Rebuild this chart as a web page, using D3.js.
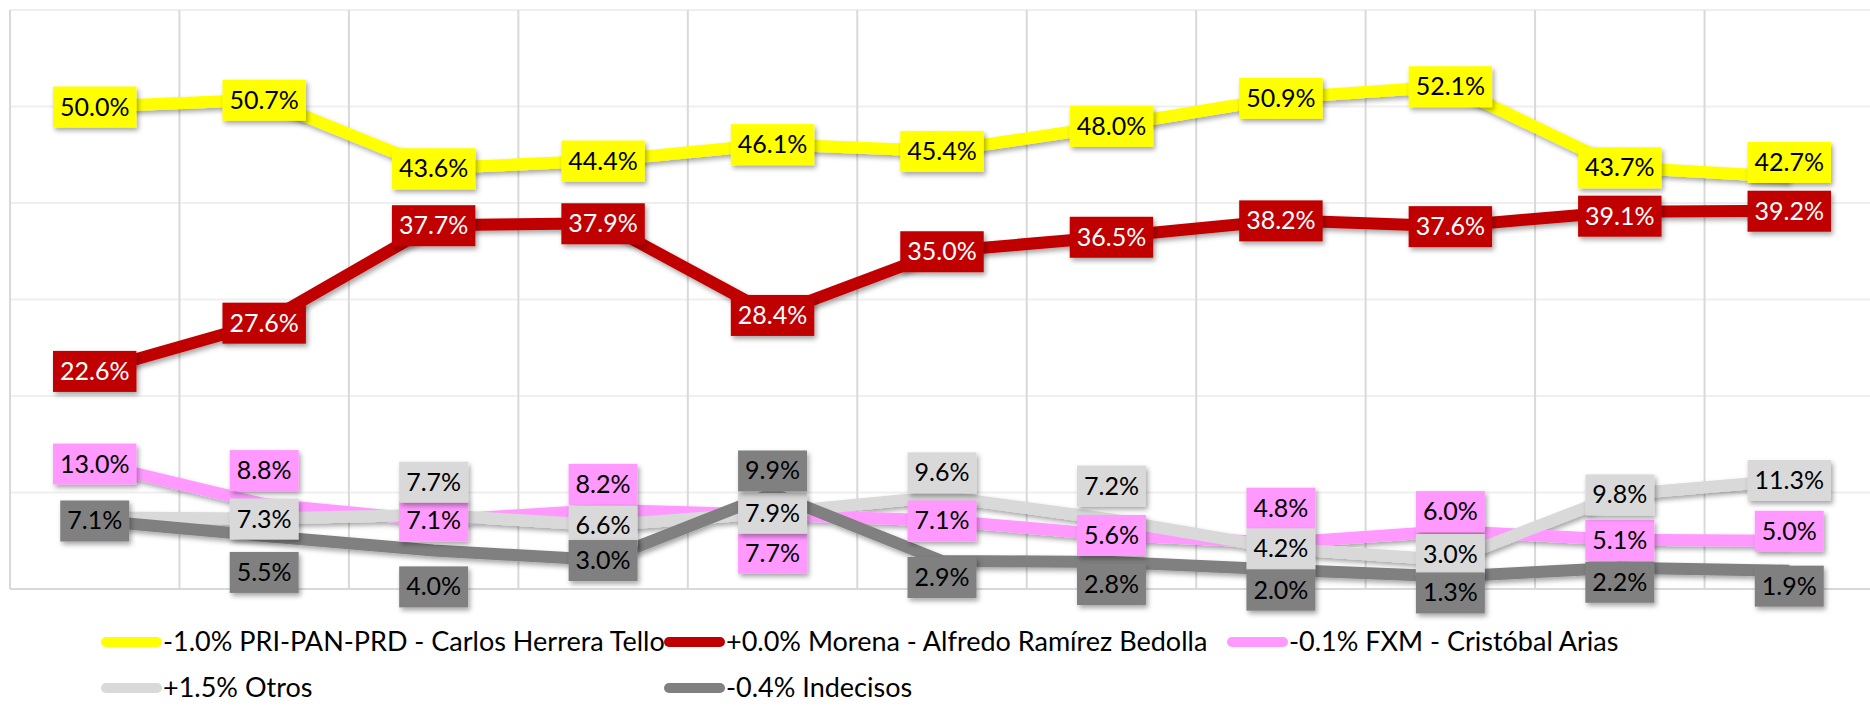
<!DOCTYPE html>
<html lang="es">
<head>
<meta charset="UTF-8">
<title>Encuestas - gubernatura</title>
<script src="https://d3js.org/d3.v7.min.js"></script>
<style>
    html, body {
        margin: 0;
        padding: 0;
        background: #ffffff;
    }

    #chart {
        width: 1870px;
        height: 706px;
    }

    .grid-v line {
        stroke: #d9d9d9;
        stroke-width: 2;
    }

    .grid-h line {
        stroke: #efefef;
        stroke-width: 2;
    }

    .serie {
        fill: none;
        stroke-width: 12;
        stroke-linejoin: round;
    }

    .etiqueta text {
        font-family: Lato, "Noto Sans", sans-serif;
        font-size: 25px;
    }

    .leyenda text {
        font-family: Lato, "Noto Sans", sans-serif;
        font-size: 27px;
        fill: #000000;
    }
</style>
</head>
<body>
<div id="chart"></div>
<script>
    // datos (once encuestas, en %)
    const encuestas = ["E1", "E2", "E3", "E4", "E5", "E6", "E7", "E8", "E9", "E10", "E11"];
    const pri = [50.0, 50.7, 43.6, 44.4, 46.1, 45.4, 48.0, 50.9, 52.1, 43.7, 42.7];
    const morena = [22.6, 27.6, 37.7, 37.9, 28.4, 35.0, 36.5, 38.2, 37.6, 39.1, 39.2];
    const fxm = [13.0, 8.8, 7.1, 8.2, 7.7, 7.1, 5.6, 4.8, 6.0, 5.1, 5.0];
    const otros = [7.4, 7.3, 7.7, 6.6, 7.9, 9.6, 7.2, 4.2, 3.0, 9.8, 11.3];
    const indecisos = [7.1, 5.5, 4.0, 3.0, 9.9, 2.9, 2.8, 2.0, 1.3, 2.2, 1.9];
    const nombres = [
        "-1.0% PRI-PAN-PRD - Carlos Herrera Tello",
        "+0.0% Morena - Alfredo Ramírez Bedolla",
        "-0.1% FXM - Cristóbal Arias",
        "+1.5% Otros",
        "-0.4% Indecisos"
    ];
    const yTicks = [0, 10, 20, 30, 40, 50, 60];

    // etiquetas movidas a mano en el original (px); null = etiqueta borrada
    const ajustePri = [0, 0, 0, 0, 0, 0, 0, 0, 0, 0, -15];
    const ajusteMorena = [0, 0, 0, 0, 0, 0, 0, 0, 0, 4, 0];
    const ajusteFxm = [0, -34, 0, -26, 38, 0, 0, -35, -20, 0, -10];
    const ajusteOtros = [null, 0, -33, 0, 0, -24, -34, 0, -6, 0, 0];
    const ajusteIndecisos = [0, 36, 36, 0, -23, 16, 22, 20, 16, 14, 15];

    const series = [
        { nombre: nombres[0], valores: pri, color: "#ffff00", texto: "#000000", ajuste: ajustePri },
        { nombre: nombres[1], valores: morena, color: "#c00000", texto: "#ffffff", ajuste: ajusteMorena },
        { nombre: nombres[2], valores: fxm, color: "#ff99ff", texto: "#000000", ajuste: ajusteFxm },
        { nombre: nombres[3], valores: otros, color: "#d9d9d9", texto: "#000000", ajuste: ajusteOtros },
        { nombre: nombres[4], valores: indecisos, color: "#808080", texto: "#000000", ajuste: ajusteIndecisos }
    ];

    const W = 1870, H = 706;
    const plot = { left: 10, right: 1874, top: 10, bottom: 589 };

    const svg = d3.select("#chart")
        .append("svg")
        .attr("width", W)
        .attr("height", H);

    const defs = svg.append("defs");
    const sombra = defs.append("filter")
        .attr("id", "sombra")
        .attr("x", "-20%").attr("y", "-40%")
        .attr("width", "150%").attr("height", "190%");
    sombra.append("feDropShadow")
        .attr("dx", 2).attr("dy", 3)
        .attr("stdDeviation", 2.5)
        .attr("flood-color", "#000")
        .attr("flood-opacity", 0.35);

    const x = d3.scaleBand()
        .domain(encuestas)
        .range([plot.left, plot.right]);

    const y = d3.scaleLinear()
        .domain([0, 60])
        .range([plot.bottom, plot.top]);

    const cx = d => x(d) + x.bandwidth() / 2;

    // rejilla horizontal
    svg.append("g")
        .attr("class", "grid-h")
        .selectAll("line")
        .data(yTicks)
        .join("line")
        .attr("x1", plot.left)
        .attr("x2", plot.right)
        .attr("y1", d => y(d))
        .attr("y2", d => y(d))
        .style("stroke", d => d === 0 ? "#d9d9d9" : null);

    // rejilla vertical entre encuestas
    const bordes = encuestas.map(d => x(d)).concat([x(encuestas[encuestas.length - 1]) + x.step()]);
    svg.append("g")
        .attr("class", "grid-v")
        .selectAll("line")
        .data(bordes)
        .join("line")
        .attr("x1", d => d)
        .attr("x2", d => d)
        .attr("y1", plot.top)
        .attr("y2", plot.bottom);

    const linea = d3.line()
        .x((d, i) => cx(encuestas[i]))
        .y(d => y(d));

    svg.append("g")
        .attr("filter", "url(#sombra)")
        .selectAll("path")
        .data(series)
        .join("path")
        .attr("class", "serie")
        .attr("stroke", s => s.color)
        .attr("d", s => linea(s.valores));

    // etiquetas de datos
    const capaEtiquetas = svg.append("g").attr("class", "etiqueta");
    series.forEach(s => {
        s.valores.forEach((v, i) => {
            if (s.ajuste[i] === null) return;
            const g = capaEtiquetas.append("g")
                .attr("transform", `translate(${cx(encuestas[i])},${y(v) + s.ajuste[i]})`);
            const rect = g.append("rect")
                .attr("fill", s.color)
                .attr("filter", "url(#sombra)");
            const t = g.append("text")
                .attr("text-anchor", "middle")
                .attr("dy", "0.36em")
                .attr("fill", s.texto)
                .text(d3.format(".1f")(v) + "%");
            const w = t.node().getComputedTextLength() + 14;
            rect.attr("x", -w / 2).attr("y", -20).attr("width", w).attr("height", 41);
        });
    });

    // leyenda
    const leyenda = svg.append("g").attr("class", "leyenda");
    const colAncho = 563, filaAlto = 46;
    series.forEach((s, i) => {
        const col = i % 3, fila = Math.floor(i / 3);
        const g = leyenda.append("g")
            .attr("transform", `translate(${101 + col * colAncho},${642 + fila * filaAlto})`);
        g.append("line")
            .attr("x1", 5).attr("x2", 56)
            .attr("stroke", s.color)
            .attr("stroke-width", 10)
            .attr("stroke-linecap", "round");
        g.append("text")
            .attr("x", 62)
            .attr("dy", "0.34em")
            .text(s.nombre);
    });
</script>
</body>
</html>
